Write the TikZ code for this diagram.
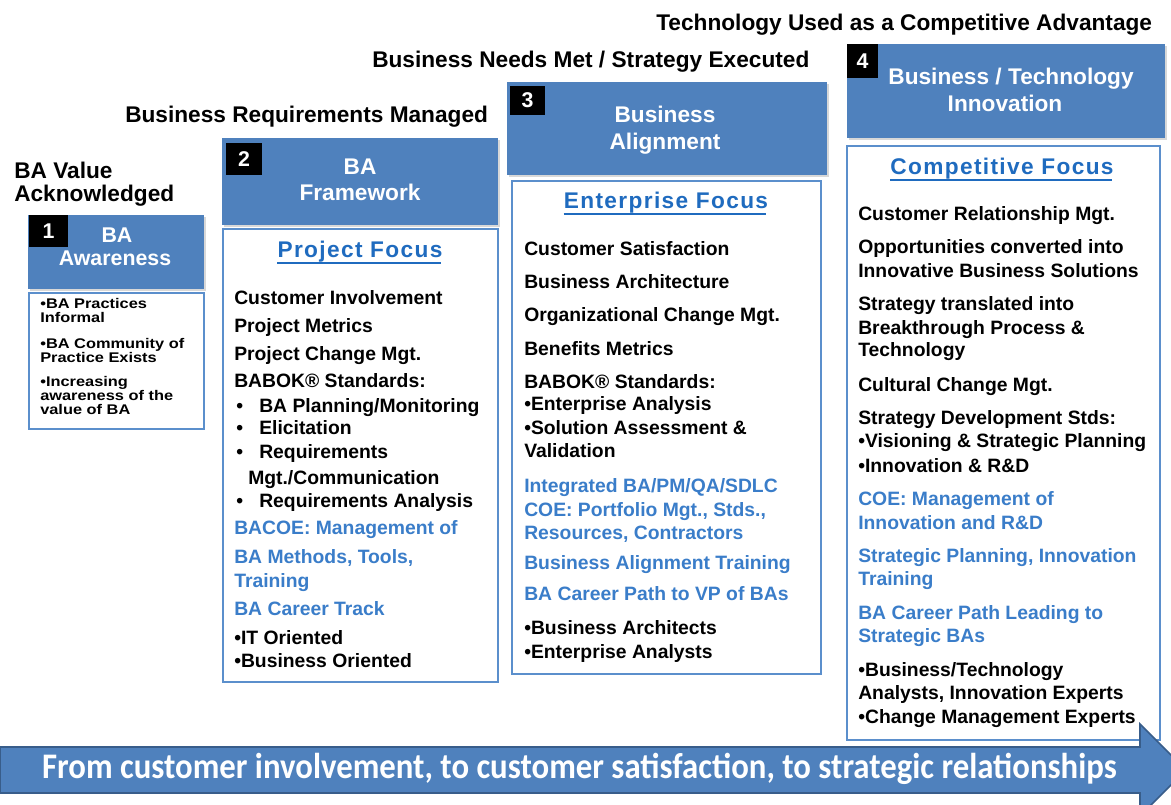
\documentclass[tikz,border=0pt]{standalone}
\usepackage{fontspec}
\setmainfont{Liberation Sans}
\newfontfamily\ttlfont[LetterSpace=6]{Liberation Sans}
\newfontfamily\widefont[FakeStretch=1.17]{Liberation Sans}
\newfontfamily\arrfont{Carlito}
\usetikzlibrary{fit,shadows,calc}
\definecolor{hdrblue}{HTML}{4F81BD}
\definecolor{boxblue}{HTML}{5B8FCC}
\definecolor{txtblue}{HTML}{3A7DC9}
\definecolor{ttlblue}{HTML}{1F6BBF}
\definecolor{arrline}{HTML}{385D8A}
\begin{document}
\begin{tikzpicture}[x=0.75pt,y=-0.75pt,
  hdr/.style={fill=hdrblue, draw=none, inner sep=0, drop shadow={opacity=0.3,shadow xshift=1.5pt,shadow yshift=-1.5pt}},
  bodybox/.style={draw=boxblue, line width=1.4pt, fill=white, inner sep=0},
  numbox/.style={fill=black, text=white, inner sep=0, font=\fontsize{16}{16}\selectfont\bfseries},
  hdrtxt/.style={text=white, anchor=base, inner sep=0, font=\fontsize{17}{17}\selectfont\bfseries},
  lbl/.style={anchor=base west, inner sep=0, font=\fontsize{17}{17}\selectfont\bfseries},
  tx/.style={anchor=base west, inner sep=0, font=\fontsize{14.5}{14.5}\selectfont\bfseries},
  btx/.style={tx, text=txtblue},
  stx/.style={anchor=base west, inner sep=0, font=\fontsize{10.5}{10.5}\selectfont\widefont\bfseries},
  ttl/.style={anchor=base, inner sep=0, text=ttlblue, font=\fontsize{17}{17}\selectfont\ttlfont\bfseries},
  uline/.style={draw=ttlblue, line width=1.5pt}
]
\path[use as bounding box, clip] (0,0) rectangle (1171,805);
\fill[white] (0,0) rectangle (1171,805);

% level labels
\node[lbl] (lab4) at (656,31) {Technology Used as a Competitive Advantage};
\node[lbl] (lab3) at (372,68) {Business Needs Met / Strategy Executed};
\node[lbl] (lab2) at (125,123) {Business Requirements Managed};
\node[lbl] (lab1a) at (14,179) {BA Value};
\node[lbl] (lab1b) at (14,202) {Acknowledged};

% ---------- Box 1
\node[hdr, fit={(28,215) (204,289)}] (h1) {};
\node[numbox, fit={(29,215) (68,247)}] (n1) {};
\node[numbox] at (n1.center) (n1t) {1};
\node[hdrtxt, font=\fontsize{16}{16}\selectfont\bfseries] (h1a) at (117,243) {BA};
\node[hdrtxt, font=\fontsize{16}{16}\selectfont\bfseries] (h1b) at (115,266) {Awareness};
\node[bodybox, fit={(29,293) (204,429)}] (b1) {};
\node[stx] (b1l1) at (40,309) {•BA Practices};
\node[stx] (b1l2) at (40,323) {Informal};
\node[stx] (b1l3) at (40,349) {•BA Community of};
\node[stx] (b1l4) at (40,363) {Practice Exists};
\node[stx] (b1l5) at (40,387) {•Increasing};
\node[stx] (b1l6) at (40,401) {awareness of the};
\node[stx] (b1l7) at (40,415) {value of BA};

% ---------- Box 2
\node[hdr, fit={(222,138) (498,225)}] (h2) {};
\node[numbox, fit={(226,143) (262,175)}] (n2) {};
\node[numbox] at (n2.center) (n2t) {2};
\node[hdrtxt] (h2a) at (360,175) {BA};
\node[hdrtxt] (h2b) at (360,201) {Framework};
\node[bodybox, fit={(223,229) (498,682)}] (b2) {};
\node[ttl] (t2) at (360,258) {Project Focus};
\draw[uline] ($(t2.base west)+(0,5)$) -- ($(t2.base east)+(-2,5)$);
\node[tx] (b2l1) at (234,305) {Customer Involvement};
\node[tx] (b2l2) at (234,333) {Project Metrics};
\node[tx] (b2l3) at (234,361) {Project Change Mgt.};
\node[tx] (b2l4) at (234,388) {BABOK® Standards:};
\node[tx] (b2d1) at (236,412) {•};
\node[tx] (b2l5) at (259,412) {BA Planning/Monitoring};
\node[tx] (b2d2) at (236,435) {•};
\node[tx] (b2l6) at (259,435) {Elicitation};
\node[tx] (b2d3) at (236,459) {•};
\node[tx] (b2l7) at (259,459) {Requirements};
\node[tx] (b2l8) at (248,484) {Mgt./Communication};
\node[tx] (b2d4) at (236,507) {•};
\node[tx] (b2l9) at (259,507) {Requirements Analysis};
\node[btx] (b2l10) at (234,534) {BACOE: Management of};
\node[btx] (b2l11) at (234,563) {BA Methods, Tools,};
\node[btx] (b2l12) at (234,587) {Training};
\node[btx] (b2l13) at (234,615) {BA Career Track};
\node[tx] (b2l14) at (234,644) {•IT Oriented};
\node[tx] (b2l15) at (234,667) {•Business Oriented};

% ---------- Box 3
\node[hdr, fit={(507,82) (827,175)}] (h3) {};
\node[numbox, fit={(510,86) (545,115)}] (n3) {};
\node[numbox] at (n3.center) (n3t) {3};
\node[hdrtxt] (h3a) at (665,123) {Business};
\node[hdrtxt] (h3b) at (665,150) {Alignment};
\node[bodybox, fit={(512,181) (821,674)}] (b3) {};
\node[ttl] (t3) at (666,209) {Enterprise Focus};
\draw[uline] ($(t3.base west)+(0,5)$) -- ($(t3.base east)+(-2,5)$);
\node[tx] (b3l1) at (524,256) {Customer Satisfaction};
\node[tx] (b3l2) at (524,289) {Business Architecture};
\node[tx] (b3l3) at (524,322) {Organizational Change Mgt.};
\node[tx] (b3l4) at (524,356) {Benefits Metrics};
\node[tx] (b3l5) at (524,389) {BABOK® Standards:};
\node[tx] (b3l6) at (524,411) {•Enterprise Analysis};
\node[tx] (b3l7) at (524,435) {•Solution Assessment \&};
\node[tx] (b3l8) at (524,458) {Validation};
\node[btx] (b3l9) at (524,493) {Integrated BA/PM/QA/SDLC};
\node[btx] (b3l10) at (524,516) {COE: Portfolio Mgt., Stds.,};
\node[btx] (b3l11) at (524,539) {Resources, Contractors};
\node[btx] (b3l12) at (524,569) {Business Alignment Training};
\node[btx] (b3l13) at (524,600) {BA Career Path to VP of BAs};
\node[tx] (b3l14) at (524,634) {•Business Architects};
\node[tx] (b3l15) at (524,658) {•Enterprise Analysts};

% ---------- Box 4
\node[hdr, fit={(847,44) (1165,138)}] (h4) {};
\node[numbox, fit={(847,44) (878,78)}] (n4) {};
\node[numbox] at (n4.center) (n4t) {4};
\node[hdrtxt] (h4a) at (1011,85) {Business / Technology};
\node[hdrtxt] (h4b) at (1005,112) {Innovation};
\node[bodybox, fit={(847,146) (1160,740)}] (b4) {};
\node[ttl] (t4) at (1002,175) {Competitive Focus};
\draw[uline] ($(t4.base west)+(0,5)$) -- ($(t4.base east)+(-2,5)$);
\node[tx] (b4l1) at (858,221) {Customer Relationship Mgt.};
\node[tx] (b4l2) at (858,254) {Opportunities converted into};
\node[tx] (b4l3) at (858,278) {Innovative Business Solutions};
\node[tx] (b4l4) at (858,311) {Strategy translated into};
\node[tx] (b4l5) at (858,335) {Breakthrough Process \&};
\node[tx] (b4l6) at (858,357) {Technology};
\node[tx] (b4l7) at (858,392) {Cultural Change Mgt.};
\node[tx] (b4l8) at (858,425) {Strategy Development Stds:};
\node[tx] (b4l9) at (858,448) {•Visioning \& Strategic Planning};
\node[tx] (b4l10) at (858,472) {•Innovation \& R\&D};
\node[btx] (b4l11) at (858,505) {COE: Management of};
\node[btx] (b4l12) at (858,529) {Innovation and R\&D};
\node[btx] (b4l13) at (858,562) {Strategic Planning, Innovation};
\node[btx] (b4l14) at (858,585) {Training};
\node[btx] (b4l15) at (858,619) {BA Career Path Leading to};
\node[btx] (b4l16) at (858,642) {Strategic BAs};
\node[tx] (b4l17) at (858,676) {•Business/Technology};
\node[tx] (b4l18) at (858,699) {Analysts, Innovation Experts};
\node[tx] (b4l19) at (858,723) {•Change Management Experts};

% ---------- bottom arrow
\path[draw=arrline, line width=1.2pt, fill=hdrblue]
  (0,747) -- (1140,747) -- (1140,724) -- (1186,770) -- (1140,816) -- (1140,793) -- (0,793) -- cycle;
\node[anchor=base, text=white, inner sep=0, font=\arrfont\bfseries\fontsize{27}{27}\selectfont] (arrtxt) at (579.5,778)
  {\resizebox{806pt}{\height}{From customer involvement, to customer satisfaction, to strategic relationships}};
\end{tikzpicture}
\end{document}
